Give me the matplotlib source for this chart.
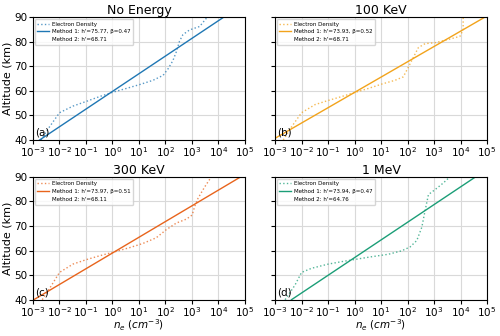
import matplotlib
matplotlib.use("Agg")
import matplotlib.pyplot as plt
import numpy as np

titles = ["No Energy", "100 KeV", "300 KeV", "1 MeV"]
tags = ["(a)", "(b)", "(c)", "(d)"]
colors = ["#1f77b4", "#f2a31b", "#e8641c", "#1b9e77"]
m1_labels = ["Method 1: h'=75.77, \u03b2=0.47", "Method 1: h'=73.93, \u03b2=0.52",
             "Method 1: h'=73.97, \u03b2=0.51", "Method 1: h'=73.94, \u03b2=0.47"]
m2_labels = ["Method 2: h'=68.71", "Method 2: h'=68.71",
             "Method 2: h'=68.11", "Method 2: h'=64.76"]

# method 1 straight fits: endpoints at 40 and 90 km (log10 ne)
fit_alt = [40, 90]
fit_log_a = [-2.75, 4.20]
fit_log_b = [-3.11, 4.92]
fit_log_c = [-2.97, 4.84]
fit_log_d = [-2.38, 4.57]

# electron density profiles (log10 ne, altitude km)
ed_log_a = [-2.70, -2.40, -2.00, -1.49, -0.99, -0.48, 0.00, 0.53, 1.04, 1.53, 1.91, 2.10, 2.28, 2.40, 2.53, 2.66, 2.91, 3.29, 3.54, 3.60]
ed_alt_a = [40.0, 45.0, 51.1, 53.8, 55.7, 57.7, 59.4, 61.0, 62.6, 64.3, 66.3, 69.0, 72.3, 75.6, 80.2, 82.9, 84.8, 86.2, 89.5, 90.0]
ed_log_b = [-2.69, -2.40, -2.00, -1.49, -0.99, -0.48, 0.00, 0.53, 1.04, 1.53, 1.84, 2.03, 2.22, 2.41, 2.66, 3.04, 3.54, 3.98, 4.10, 4.10]
ed_alt_b = [40.0, 45.0, 51.1, 54.4, 56.1, 57.7, 59.3, 61.0, 62.8, 64.3, 65.7, 69.6, 73.6, 77.6, 79.2, 79.6, 80.9, 82.2, 84.9, 90.0]
ed_log_c = [-2.65, -2.35, -2.00, -1.49, -0.99, -0.48, 0.15, 0.65, 1.15, 1.65, 2.03, 2.41, 2.79, 3.01, 3.10, 3.23, 3.48, 3.73]
ed_alt_c = [40.0, 45.0, 51.1, 54.5, 56.3, 57.9, 59.7, 61.2, 62.9, 65.2, 68.5, 71.2, 72.8, 74.5, 77.9, 81.3, 85.9, 90.0]
ed_log_d = [-2.62, -2.25, -2.00, -1.62, -0.99, -0.48, 0.02, 0.65, 1.28, 1.78, 2.10, 2.35, 2.54, 2.66, 2.79, 3.04, 3.35, 3.60]
ed_alt_d = [40.0, 45.9, 51.1, 52.8, 54.5, 55.5, 56.4, 57.5, 58.5, 59.9, 61.5, 64.1, 69.5, 76.1, 82.8, 84.8, 87.5, 90.0]

fits = [fit_log_a, fit_log_b, fit_log_c, fit_log_d]
ed_logs = [ed_log_a, ed_log_b, ed_log_c, ed_log_d]
ed_alts = [ed_alt_a, ed_alt_b, ed_alt_c, ed_alt_d]

fig, axes = plt.subplots(2, 2, figsize=(5, 3.36), dpi=100, sharey=True)
fig.subplots_adjust(left=0.066, right=0.974, top=0.949, bottom=0.108, wspace=0.142, hspace=0.30)

for i, ax in enumerate(axes.flat):
    c = colors[i]
    ax.plot(10 ** np.array(ed_logs[i]), ed_alts[i], linestyle=':', color=c, alpha=0.75, linewidth=1.0,
            label='Electron Density')
    ax.plot(10 ** np.array(fits[i]), fit_alt, color=c, linewidth=1.0, label=m1_labels[i])
    ax.plot([], [], color='none', label=m2_labels[i])
    ax.set_xscale('log')
    ax.set_xlim(1e-3, 1e5)
    ax.set_ylim(40, 90)
    ax.set_xticks([10.0 ** k for k in range(-3, 6)])
    ax.minorticks_off()
    ax.set_yticks([40, 50, 60, 70, 80, 90])
    ax.tick_params(labelsize=7.5, length=3, pad=1)
    ax.grid(True, color='#d9d9d9', linewidth=0.8)
    ax.set_axisbelow(True)
    ax.set_title(titles[i], fontsize=9, pad=2)
    ax.text(0.01, 0.02, tags[i], transform=ax.transAxes, fontsize=7.5, va='bottom', ha='left')
    ax.legend(loc='upper left', fontsize=4.0, frameon=True, borderpad=0.5, labelspacing=0.5,
              handlelength=2.0, handletextpad=0.6, borderaxespad=0.3, fancybox=True)
    if i % 2 == 0:
        ax.set_ylabel('Altitude (km)', fontsize=8, labelpad=1)
    if i >= 2:
        ax.set_xlabel('$n_e$ $(cm^{-3})$', fontsize=7.5, labelpad=-1)

fig.savefig('out.png', dpi=100)
